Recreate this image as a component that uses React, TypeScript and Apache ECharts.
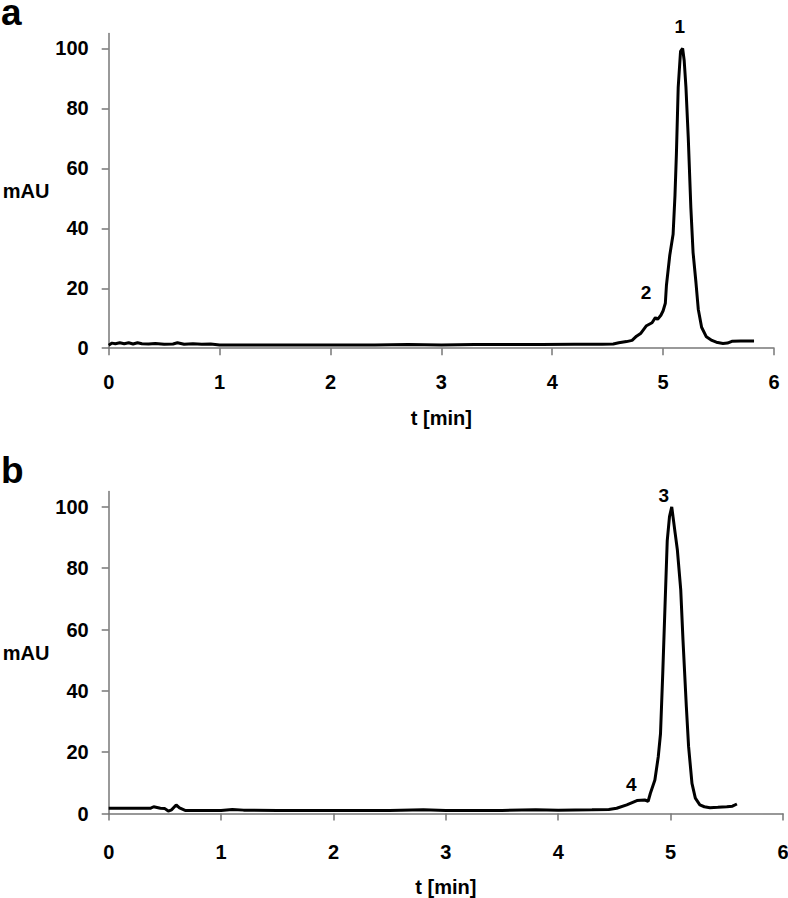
import React, { useEffect, useRef } from "react";
import * as echarts from "echarts";

// Chromatogram a
const timeA = [0.0, 0.03, 0.06, 0.1, 0.14, 0.18, 0.22, 0.26, 0.3, 0.36, 0.42, 0.5, 0.58, 0.62, 0.68, 0.76, 0.84, 0.92, 1.0, 1.2, 1.5, 1.8, 2.1, 2.4, 2.7, 3.0, 3.3, 3.6, 3.9, 4.2, 4.45, 4.55, 4.6, 4.67, 4.72, 4.76, 4.8, 4.85, 4.9, 4.93, 4.95, 4.98, 5.0, 5.02, 5.03, 5.06, 5.09, 5.107, 5.12, 5.136, 5.157, 5.176, 5.19, 5.206, 5.227, 5.25, 5.27, 5.296, 5.317, 5.347, 5.39, 5.44, 5.48, 5.54, 5.58, 5.62, 5.7, 5.82];
const signalA = [1.0, 1.7, 1.5, 1.8, 1.5, 1.8, 1.4, 1.8, 1.5, 1.4, 1.6, 1.3, 1.4, 1.8, 1.3, 1.5, 1.3, 1.4, 1.1, 1.1, 1.1, 1.1, 1.1, 1.1, 1.2, 1.1, 1.2, 1.2, 1.2, 1.3, 1.3, 1.4, 1.8, 2.2, 2.6, 4.0, 5.0, 7.5, 8.5, 10.2, 9.6, 11.0, 12.5, 15, 21, 31, 38, 51, 65, 87, 99, 100, 96, 87, 70, 47, 32, 22, 13, 7, 3.8, 2.6, 2.0, 1.6, 1.7, 2.3, 2.4, 2.4];

// Chromatogram b
const timeB = [0.0, 0.1, 0.2, 0.3, 0.37, 0.4, 0.46, 0.5, 0.53, 0.56, 0.6, 0.63, 0.68, 0.8, 1.0, 1.1, 1.2, 1.5, 2.0, 2.5, 2.8, 3.0, 3.5, 3.8, 4.0, 4.3, 4.45, 4.52, 4.61, 4.7, 4.77, 4.8, 4.82, 4.86, 4.89, 4.91, 4.93, 4.95, 4.97, 4.99, 5.01, 5.04, 5.06, 5.09, 5.11, 5.14, 5.16, 5.19, 5.22, 5.26, 5.3, 5.35, 5.42, 5.5, 5.55, 5.59];
const signalB = [1.7, 1.7, 1.7, 1.7, 1.7, 2.2, 1.7, 1.6, 0.8, 1.2, 2.8, 1.8, 1.0, 1.0, 1.0, 1.3, 1.1, 1.0, 1.0, 1.0, 1.2, 1.0, 1.0, 1.2, 1.1, 1.2, 1.3, 1.7, 2.8, 4.2, 4.4, 4.0, 6.6, 10.9, 18.5, 26, 45.7, 67.5, 89, 96.8, 100, 91.5, 86, 73, 56.6, 34.8, 21.8, 9.8, 5.0, 2.8, 2.2, 1.9, 2.0, 2.2, 2.4, 3.1];

// Peak annotations (label baseline anchor points)
const peakNamesA = ["1", "2"];
const peakTimeA = [5.15, 4.845];
const peakValueA = [104, 15.3];
const peakNamesB = ["3", "4"];
const peakTimeB = [4.94, 4.65];
const peakValueB = [100.4, 6.3];

// Ticks
const yTickValues = [0, 20, 40, 60, 80, 100];
const panelLetters = ["a", "b"];

const FONT = "'Liberation Sans', Arial, sans-serif";
const AXIS_COLOR = "#777";

const zip = (xs: number[], ys: number[]) => xs.map((x, i) => [x, ys[i]]);

function xAxisCfg(gridIndex: number, labelMargin: number, nameGap: number) {
  return {
    gridIndex,
    type: "value",
    min: 0,
    max: 6,
    interval: 1,
    name: "t [min]",
    nameLocation: "middle",
    nameGap,
    nameTextStyle: { fontSize: 20, fontWeight: "bold", color: "#000", fontFamily: FONT },
    axisLine: { show: true, onZero: false, lineStyle: { color: AXIS_COLOR, width: 1.5 } },
    axisTick: { show: true, length: 7, lineStyle: { color: AXIS_COLOR, width: 1.5 } },
    axisLabel: { margin: labelMargin, fontSize: 20, fontWeight: "bold", color: "#000", fontFamily: FONT },
    splitLine: { show: false },
  };
}

function yAxisCfg(gridIndex: number) {
  return {
    gridIndex,
    type: "value",
    min: 0,
    max: 105,
    name: "mAU",
    nameLocation: "middle",
    nameRotate: 0,
    nameGap: 58,
    nameTextStyle: { fontSize: 20, fontWeight: "bold", color: "#000", fontFamily: FONT },
    axisLine: { show: true, onZero: false, lineStyle: { color: AXIS_COLOR, width: 1.5 } },
    axisTick: { show: true, length: 7, customValues: yTickValues, lineStyle: { color: AXIS_COLOR, width: 1.5 } },
    axisLabel: { margin: 20, customValues: yTickValues, fontSize: 20, fontWeight: "bold", color: "#000", fontFamily: FONT },
    splitLine: { show: false },
  };
}

function lineSeries(idx: number, xs: number[], ys: number[]) {
  return {
    type: "line",
    xAxisIndex: idx,
    yAxisIndex: idx,
    data: zip(xs, ys),
    showSymbol: false,
    symbol: "none",
    lineStyle: { color: "#000", width: 3 },
    z: 3,
  };
}

function labelSeries(idx: number, names: string[], xs: number[], ys: number[]) {
  return {
    type: "scatter",
    xAxisIndex: idx,
    yAxisIndex: idx,
    clip: false,
    symbolSize: 1,
    itemStyle: { color: "#fff", opacity: 0 },
    data: names.map((n, i) => ({ name: n, value: [xs[i], ys[i]] })),
    label: {
      show: true,
      position: "top",
      distance: 0,
      formatter: (p: any) => p.name,
      fontSize: 19,
      fontWeight: "bold",
      color: "#000",
      opacity: 1,
      textBorderWidth: 0,
      fontFamily: FONT,
    },
    emphasis: { disabled: true },
    z: 4,
  };
}

export default function App() {
  const ref = useRef<HTMLDivElement>(null);
  useEffect(() => {
    if (!ref.current) return;
    const chart = echarts.init(ref.current, undefined, { renderer: "svg" });
    chart.setOption({
      animation: false,
      backgroundColor: "#fff",
      textStyle: { fontFamily: FONT },
      grid: [
        { left: 108.7, width: 665.3, top: 33.5, height: 314.7, outerBoundsMode: "none", containLabel: false },
        { left: 108.7, width: 674.3, top: 491.5, height: 322, outerBoundsMode: "none", containLabel: false },
      ],
      xAxis: [xAxisCfg(0, 24, 60), xAxisCfg(1, 28, 63)],
      yAxis: [yAxisCfg(0), yAxisCfg(1)],
      series: [
        lineSeries(0, timeA, signalA),
        lineSeries(1, timeB, signalB),
        labelSeries(0, peakNamesA, peakTimeA, peakValueA),
        labelSeries(1, peakNamesB, peakTimeB, peakValueB),
      ],
      graphic: [
        {
          type: "text",
          left: 1,
          top: -6,
          style: { text: panelLetters[0], fontSize: 37, lineHeight: 20, fontWeight: "bold", fill: "#000", fontFamily: FONT },
        },
        {
          type: "text",
          left: 1,
          top: 452,
          style: { text: panelLetters[1], fontSize: 37, lineHeight: 20, fontWeight: "bold", fill: "#000", fontFamily: FONT },
        },
      ],
    });
    return () => chart.dispose();
  }, []);
  return (
    <div
      ref={ref}
      style={{ position: "absolute", left: 0, top: 0, width: 788, height: 898 }}
    />
  );
}
